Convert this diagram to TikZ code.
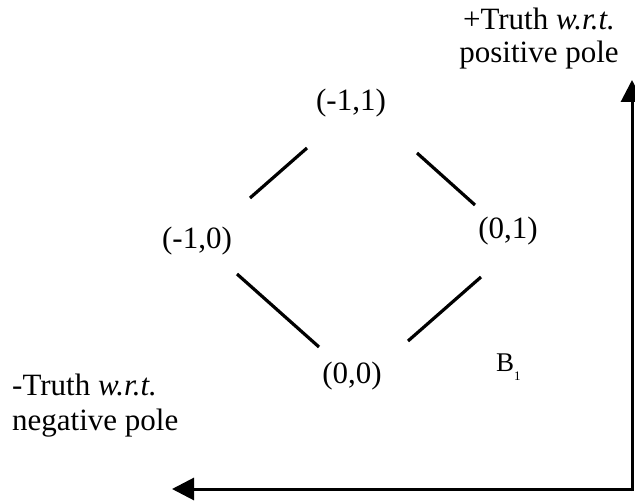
\documentclass[tikz,border=0pt]{standalone}
\usepackage{fontspec}
\setmainfont{Liberation Serif}
\usetikzlibrary{arrows.meta}
\begin{document}
\begin{tikzpicture}[x=1pt,y=-1pt,
  lbl/.style={inner sep=0pt,font=\fontsize{31}{34}\selectfont},
  captext/.style={inner sep=0pt,anchor=base,font=\fontsize{31}{34}\selectfont},
  seg/.style={line width=3.2pt},
  axis/.style={line width=3pt,-{Triangle[length=22pt,width=22pt]}}]
\useasboundingbox (0,0) rectangle (635,503);
\node[captext] (pos1) at (539,30) {+Truth \textit{w.r.t.}};
\node[captext] (pos2) at (539,63) {positive pole};
\node[captext,anchor=base west] (neg1) at (12,395) {-Truth \textit{w.r.t.}};
\node[captext,anchor=base west] (neg2) at (12,430) {negative pole};
\node[lbl] (a) at (351,103) {(-1,1)};
\node[lbl] (b) at (197,241) {(-1,0)};
\node[lbl] (c) at (508,231) {(0,1)};
\node[lbl] (d) at (352,376) {(0,0)};
\node[inner sep=0pt,anchor=base west,font=\fontsize{27}{30}\selectfont] (e) at (496,371) {B\raisebox{-9pt}{\fontsize{13}{14}\selectfont 1}};
\coordinate (corner) at (632,491);
\coordinate (top) at (632,80);
\coordinate (left) at (172,489);
\coordinate (s1a) at (250,198); \coordinate (s1b) at (307,148);
\coordinate (s2a) at (417,153); \coordinate (s2b) at (475,205);
\coordinate (s3a) at (237,274); \coordinate (s3b) at (319,347);
\coordinate (s4a) at (408,341); \coordinate (s4b) at (481,277);
\draw[seg] (s1a) -- (s1b);
\draw[seg] (s2a) -- (s2b);
\draw[seg] (s3a) -- (s3b);
\draw[seg] (s4a) -- (s4b);
\draw[axis] (corner) -- (top);
\draw[axis] (633.5,489) -- (left);
\end{tikzpicture}
\end{document}
